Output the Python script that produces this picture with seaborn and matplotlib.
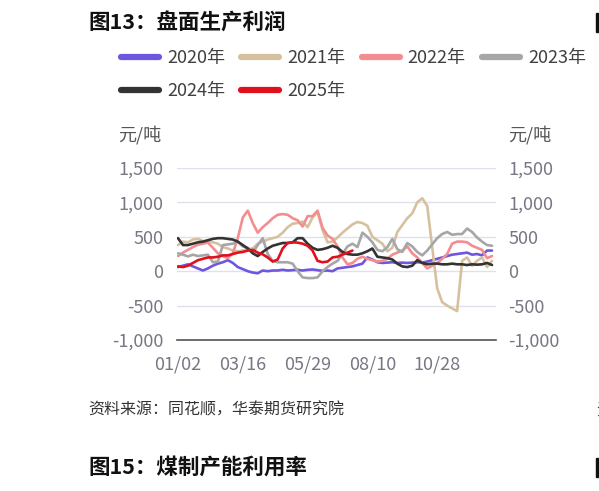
import numpy as np
import pandas as pd
import seaborn as sns
import matplotlib.pyplot as plt
from matplotlib.lines import Line2D
from matplotlib.patches import Rectangle

sns.set_style("white")
plt.rcParams['font.family'] = ['Noto Sans CJK SC', 'DejaVu Sans']

# datos (un punto cada ~5 sesiones)
years = ["2020年", "2021年", "2022年", "2023年", "2024年", "2025年"]
colors = ["#6f56e0", "#d6c19f", "#f28d90", "#a6a6a8", "#333333", "#e0111d"]

y2020 = [60, 80, 100, 70, 40, 10, 40, 80, 110, 130, 160, 120, 60, 30, 0, -20, -30, 10, 0, 10, 10, 20, 10, 15, 20, 10, 20, 25, 15, 5, 10,
         0, 40, 50, 60, 70, 90, 110, 200, 170, 130, 120, 125, 130, 120, 125, 120, 125, 130, 125, 140, 160, 180, 200, 220, 240, 250, 260, 270, 240, 250, 230, 300, 300]
y2021 = [380, 430, 420, 460, 470, 440, 430, 420, 400, 350, 330, 300, 290, 300, 320, 330, 400, 430, 460, 480, 500, 560, 640, 690, 700, 720, 640, 780, 860, 600, 420,
         430, 490, 560, 620, 680, 715, 700, 660, 500, 450, 400, 290, 340, 570, 670, 770, 840, 1000, 1060, 950, 350, -250, -450, -500, -540, -580, 150, 200, 80, 150, 200, 60, 150]
y2022 = [220, 270, 310, 350, 385, 400, 415, 340, 260, 220, 190, 260, 480, 780, 880, 700, 560, 640, 700, 770, 820, 830, 820, 770, 740, 650, 800, 800, 880, 630, 520,
         470, 360, 200, 100, 120, 180, 210, 180, 160, 140, 150, 180, 240, 270, 300, 360, 260, 200, 120, 40, 80, 120, 180, 250, 400, 430, 430, 420, 370, 340, 310, 190, 220]
y2023 = [260, 240, 215, 240, 220, 230, 240, 130, 140, 380, 390, 400, 430, 360, 340, 270, 380, 480, 250, 150, 130, 130, 130, 110, 0, -90, -100, -100, -90, 0, 60,
         110, 150, 250, 360, 400, 350, 560, 500, 420, 310, 290, 350, 470, 320, 280, 410, 360, 280, 230, 300, 390, 480, 540, 570, 530, 540, 540, 620, 570, 490, 430, 380, 370]
y2024 = [480, 380, 380, 400, 420, 430, 450, 470, 480, 480, 470, 460, 430, 380, 330, 260, 220, 280, 330, 370, 390, 410, 410, 420, 480, 480, 400, 340, 310, 320, 340,
         370, 340, 280, 250, 240, 240, 260, 290, 330, 210, 200, 190, 170, 110, 70, 60, 80, 160, 120, 100, 110, 110, 100, 100, 110, 100, 100, 90, 100, 95, 100, 120, 90]
y2025 = [70, 60, 80, 120, 160, 180, 200, 200, 210, 230, 230, 250, 270, 280, 300, 310, 270, 245, 200, 140, 170, 330, 410, 420, 415, 400, 370, 300, 150, 130, 140,
         200, 210, 240, 270, 300]

tick_pos = [0, 13, 26, 39, 52]
tick_labels = ["01/02", "03/16", "05/29", "08/10", "10/28"]
y_ticks = [-1000, -500, 0, 500, 1000, 1500]

frames = []
for year, vals in zip(years, [y2020, y2021, y2022, y2023, y2024, y2025]):
    frames.append(pd.DataFrame({"idx": np.arange(len(vals)), "val": vals, "year": year}))
df = pd.concat(frames, ignore_index=True)

W, H = 599, 491
fig = plt.figure(figsize=(W / 100, H / 100), dpi=100)
ax = fig.add_axes([177 / W, 1 - 340 / H, (496 - 177) / W, (340 - 168) / H])

sns.lineplot(data=df, x="idx", y="val", hue="year", hue_order=years,
             palette=colors, linewidth=1.9, legend=False, sort=False, ax=ax)

tick_color = "#777785"
ax.set_xlim(-0.2, 63.8)
ax.set_ylim(-1000, 1500)
ax.set_xticks(tick_pos + [63.8])
ax.set_xticklabels(tick_labels + [""])
ax.set_yticks(y_ticks)
ax.set_yticklabels([f"{v:,}" for v in y_ticks])
ax.set_xlabel("")
ax.set_ylabel("")
ax.yaxis.grid(True, color="#dfe1ea", linewidth=1)
ax.xaxis.grid(False)
ax.set_axisbelow(True)
for s in ["left", "right", "top"]:
    ax.spines[s].set_visible(False)
ax.spines["bottom"].set_color("#555555")
ax.spines["bottom"].set_linewidth(1.2)
ax.tick_params(axis="x", direction="in", length=7, width=1.2, color="#555555",
               labelsize=13, labelcolor=tick_color, pad=11)
ax.tick_params(axis="y", length=0, labelsize=13, labelcolor=tick_color, pad=10)

ax2 = ax.twinx()
ax2.set_ylim(-1000, 1500)
ax2.set_yticks(y_ticks)
ax2.set_yticklabels([f"{v:,}" for v in y_ticks])
for s in ["left", "right", "top", "bottom"]:
    ax2.spines[s].set_visible(False)
ax2.tick_params(axis="y", length=0, labelsize=13, labelcolor=tick_color, pad=9)

fig.text(118 / W, 1 - 135 / H, "元/吨", fontsize=13, color="#555555", va="center", ha="left")
fig.text(508 / W, 1 - 135 / H, "元/吨", fontsize=13, color="#555555", va="center", ha="left")

# orden por columnas para que las filas queden 2020-2023 / 2024-2025
order = [0, 4, 1, 5, 2, 3]
handles = [Line2D([], [], color=colors[i], lw=4.5, solid_capstyle="round") for i in order]
fig.legend(handles, [years[i] for i in order], ncol=4, loc="upper left",
           bbox_to_anchor=(121 / W, 1 - 49 / H),
           frameon=False, fontsize=13, labelcolor="#404040", handlelength=2.1,
           handletextpad=0.45, columnspacing=0.9, labelspacing=0.85,
           borderpad=0, borderaxespad=0)

fig.text(88 / W, 1 - 23 / H, "图13：盘面生产利润", fontsize=15.5, fontweight="bold", va="center", color="#111111")
fig.text(88 / W, 1 - 410 / H, "资料来源：同花顺，华泰期货研究院", fontsize=11.5, style="italic", va="center", color="#333333")
fig.text(88 / W, 1 - 467 / H, "图15：煤制产能利用率", fontsize=15.5, fontweight="bold", va="center", color="#111111")

# marcas de la columna vecina
fig.add_artist(Rectangle((596 / W, 1 - 32 / H), 2 / W, 19 / H, transform=fig.transFigure, color="#111111"))
fig.add_artist(Rectangle((596 / W, 1 - 477 / H), 2 / W, 19 / H, transform=fig.transFigure, color="#111111"))
fig.text(596 / W, 1 - 410 / H, "资", fontsize=11.5, va="center", color="#333333")

fig.savefig("out.png", dpi=100)
